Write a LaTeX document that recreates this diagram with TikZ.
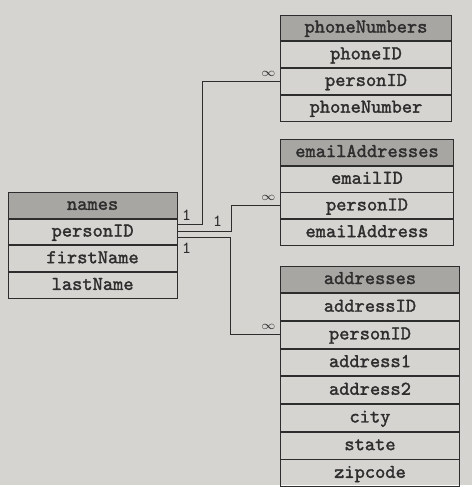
\documentclass[tikz,border=0pt]{standalone}
\usepackage{fontspec}
\newfontfamily\tablefont{Latin Modern Mono}[FakeBold=1.6]
\usetikzlibrary{positioning,calc}
\definecolor{pagegray}{RGB}{214,212,209}
\definecolor{headgray}{RGB}{168,166,163}
\definecolor{inkgray}{RGB}{45,45,45}
\tikzstyle{field} = [
    draw=inkgray,
    thin,
    minimum height=13pt,
    inner sep=0pt,
    text height=6.6pt,
    text depth=1.9pt,
    text=inkgray,
    font=\tablefont\fontsize{9.8}{11}\selectfont
]
\tikzstyle{header} = [field, fill=headgray]
\tikzstyle{link} = [draw=inkgray, thin]
\tikzstyle{one} = [inner sep=0pt, text=inkgray, font=\ttfamily\fontsize{8.5}{9}\selectfont]
\tikzstyle{many} = [inner sep=0pt, text=inkgray, font=\fontsize{6}{7}\selectfont]

\begin{document}
\begin{tikzpicture}[x=0.5pt,y=-0.5pt]
% Page
\fill[pagegray] (0,0) rectangle (474,487);

% names table
\node[header, minimum width=85pt] (names) at (93,206) {names};
\node[field, minimum width=85pt, below=0pt of names] (names-personID) {personID};
\node[field, minimum width=85pt, below=0pt of names-personID] (names-firstName) {firstName};
\node[field, minimum width=85pt, below=0pt of names-firstName] (names-lastName) {lastName};

% phoneNumbers table
\node[header, minimum width=85.5pt] (phone) at (367.5,28) {phoneNumbers};
\node[field, minimum width=85.5pt, below=0pt of phone] (phone-phoneID) {phoneID};
\node[field, minimum width=85.5pt, below=0pt of phone-phoneID] (phone-personID) {personID};
\node[field, minimum width=85.5pt, below=0pt of phone-personID] (phone-phoneNumber) {phoneNumber};

% emailAddresses table
\node[header, minimum width=86.5pt] (email) at (368.5,153) {emailAddresses};
\node[field, minimum width=86.5pt, below=0pt of email] (email-emailID) {emailID};
\node[field, minimum width=86.5pt, below=0pt of email-emailID] (email-personID) {personID};
\node[field, minimum width=86.5pt, below=0pt of email-personID] (email-emailAddress) {emailAddress};

% addresses table (taller rows)
\node[header, minimum width=89.5pt, minimum height=13.5pt] (addr) at (371.5,280.5) {addresses};
\node[field, minimum width=89.5pt, minimum height=13.5pt, below=0pt of addr] (addr-addressID) {addressID};
\node[field, minimum width=89.5pt, minimum height=13.5pt, below=0pt of addr-addressID] (addr-personID) {personID};
\node[field, minimum width=89.5pt, minimum height=13.5pt, below=0pt of addr-personID] (addr-address1) {address1};
\node[field, minimum width=89.5pt, minimum height=13.5pt, below=0pt of addr-address1] (addr-address2) {address2};
\node[field, minimum width=89.5pt, minimum height=13.5pt, below=0pt of addr-address2] (addr-city) {city};
\node[field, minimum width=89.5pt, minimum height=13.5pt, below=0pt of addr-city] (addr-state) {state};
\node[field, minimum width=89.5pt, minimum height=13.5pt, below=0pt of addr-state] (addr-zipcode) {zipcode};

% Relationships (one-to-many on personID)
\draw[link] ([yshift=3.5pt]names-personID.east) -- ++(12.5pt,0) |- (phone-personID.west);
\draw[link] (names-personID.east) -- ++(27pt,0) |- (email-personID.west);
\draw[link] ([yshift=-3pt]names-personID.east) -- ++(26.5pt,0) |- (addr-personID.west);

% Cardinalities
\node[one] (phone-one) at ([xshift=4.5pt,yshift=8.5pt]names-personID.east) {1};
\node[one] (email-one) at ([xshift=20pt,yshift=5.5pt]names-personID.east) {1};
\node[one] (addr-one) at ([xshift=4.5pt,yshift=-8pt]names-personID.east) {1};
\node[many] (phone-many) at ([xshift=-6pt,yshift=3.5pt]phone-personID.west) {$\infty$};
\node[many] (email-many) at ([xshift=-6pt,yshift=4pt]email-personID.west) {$\infty$};
\node[many] (addr-many) at ([xshift=-6pt,yshift=4pt]addr-personID.west) {$\infty$};
\end{tikzpicture}
\end{document}
